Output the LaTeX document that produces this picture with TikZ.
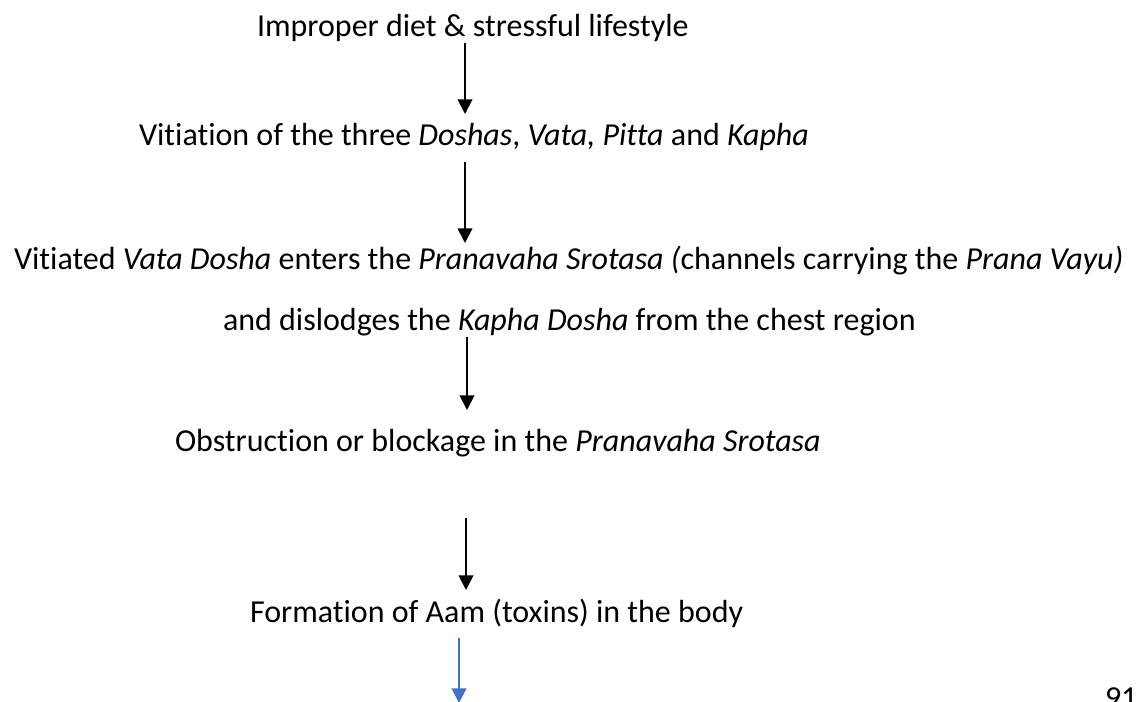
\documentclass[tikz,border=0pt]{standalone}
\usepackage{fontspec}
\setmainfont{Carlito}[Ligatures=NoCommon]
\usetikzlibrary{arrows.meta}
\definecolor{officeblue}{HTML}{4472C4}
\begin{document}
\begin{tikzpicture}[x=0.75pt,y=-0.75pt,
  lbl/.style={anchor=base west,inner sep=0pt,outer sep=0pt,font=\fontsize{24}{29}\selectfont},
  flow/.style={line width=1.4pt,-{Triangle[length=11pt,width=11pt]}},
  blueflow/.style={flow,draw=officeblue,-{Triangle[length=11pt,width=11pt,fill=officeblue]}}]
\useasboundingbox (0,0) rectangle (1144,701);
\node[lbl] (t1) at (257,36) {Improper diet \& stressful lifestyle};
\node[lbl] (t2) at (139,145) {Vitiation of the three \textit{Doshas}, \textit{Vata, Pitta} and \textit{Kapha}};
\node[lbl] (t3) at (14,269) {Vitiated \textit{Vata Dosha} enters the \textit{Pranavaha Srotasa (}channels carrying the \textit{Prana Vayu)}};
\node[lbl] (t4) at (223,330) {and dislodges the \textit{Kapha Dosha} from the chest region};
\node[lbl] (t5) at (175,451) {Obstruction or blockage in the \textit{Pranavaha Srotasa}};
\node[lbl] (t6) at (250,622) {Formation of Aam (toxins) in the body};
\node[lbl] (pg) at (1105,708) {91};
\coordinate (a1s) at (465,43);  \coordinate (a1e) at (465,114);
\coordinate (a2s) at (465,162); \coordinate (a2e) at (465,243);
\coordinate (a3s) at (467,337); \coordinate (a3e) at (467,410);
\coordinate (a4s) at (466,518); \coordinate (a4e) at (466,590);
\coordinate (a5s) at (459,638); \coordinate (a5e) at (459,703);
\draw[flow] (a1s) -- (a1e);
\draw[flow] (a2s) -- (a2e);
\draw[flow] (a3s) -- (a3e);
\draw[flow] (a4s) -- (a4e);
\draw[blueflow] (a5s) -- (a5e);
\end{tikzpicture}
\end{document}
